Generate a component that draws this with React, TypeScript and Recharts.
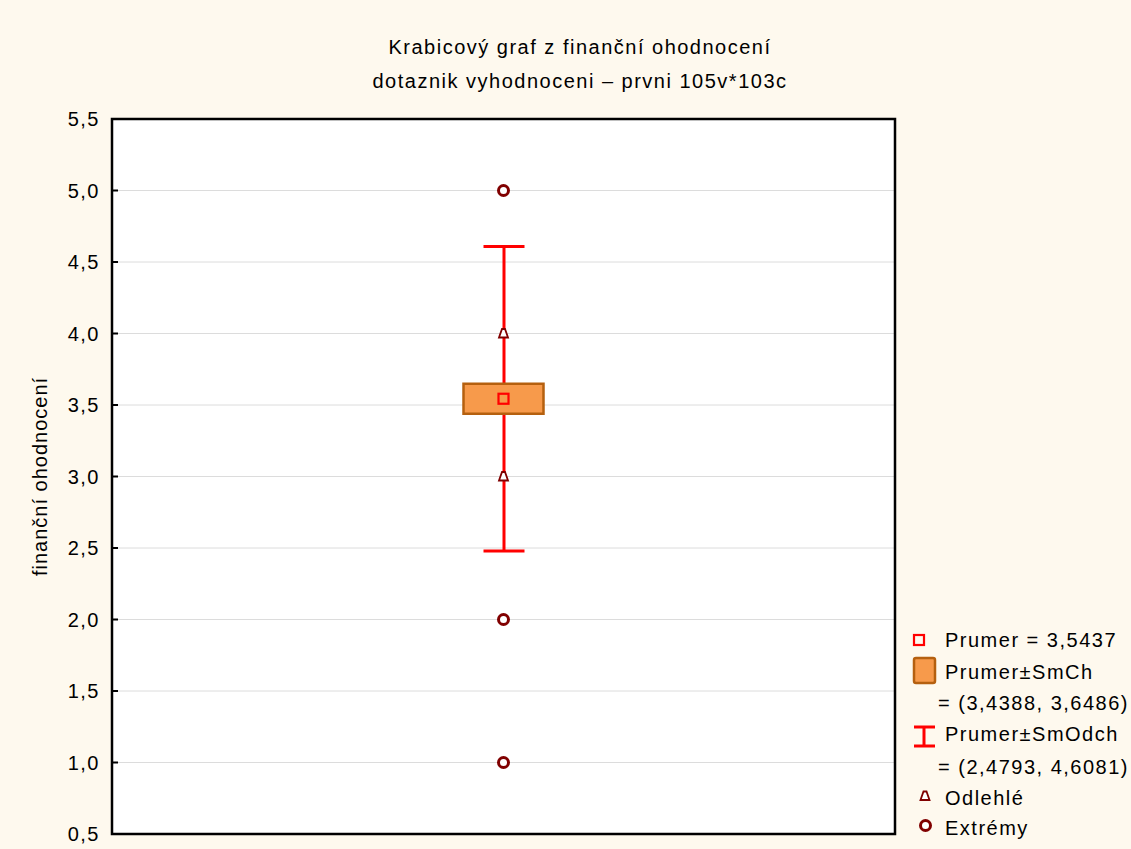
import React from 'react';
import {
  ComposedChart,
  Bar,
  Scatter,
  XAxis,
  YAxis,
  CartesianGrid,
  ReferenceArea,
  Legend,
} from 'recharts';

// Box plot values: mean, mean ± std. error, mean ± std. deviation
const categories = ['finanční ohodnocení'];
const meanValues = [3.5437];
const seLow = [3.4388];
const seHigh = [3.6486];
const sdLow = [2.4793];
const sdHigh = [4.6081];
const outlierValues = [4.0, 3.0];
const extremeValues = [5.0, 2.0, 1.0];
const yTicks = [0.5, 1.0, 1.5, 2.0, 2.5, 3.0, 3.5, 4.0, 4.5, 5.0, 5.5];

const titleLines = ['Krabicový graf z finanční ohodnocení', 'dotaznik vyhodnoceni – prvni  105v*103c'];

const FONT = '"Liberation Sans", Arial, sans-serif';
const BG = '#FEF9EE';
const BOX_FILL = '#F79A4B';
const BOX_STROKE = '#B5600F';
const RED = '#FF0000';
const DARK_RED = '#800000';

const fmt = (v: number, digits: number) => v.toFixed(digits).replace('.', ',');

// category sits in the middle of a 0..2 numeric axis
const chartData = categories.map((name, i) => ({
  name,
  x: 1,
  se: [seLow[i], seHigh[i]],
  sd: [sdLow[i], sdHigh[i]],
}));
const meanData = meanValues.map((v) => ({ x: 1, v }));
const outlierData = outlierValues.map((v) => ({ x: 1, v }));
const extremeData = extremeValues.map((v) => ({ x: 1, v }));

const YTick = (props: any) => {
  const { x, y, payload } = props;
  return (
    <g>
      <line x1={x} x2={x + 6} y1={y} y2={y} stroke="#000" strokeWidth={2} />
      <text
        x={x - 12}
        y={y}
        dy="0.35em"
        textAnchor="end"
        fontSize={20}
        letterSpacing={1.5}
        fontFamily={FONT}
        fill="#000"
      >
        {fmt(payload.value, 1)}
      </text>
    </g>
  );
};

const WhiskerShape = (props: any) => {
  const { x, y, width, height } = props;
  const cx = x + width / 2;
  return (
    <g stroke={RED} strokeWidth={3}>
      <line x1={cx} x2={cx} y1={y} y2={y + height} />
      <line x1={x} x2={x + width} y1={y} y2={y} />
      <line x1={x} x2={x + width} y1={y + height} y2={y + height} />
    </g>
  );
};

const MeanShape = (props: any) => (
  <rect x={props.cx - 5} y={props.cy - 5} width={10} height={10} fill="none" stroke={RED} strokeWidth={2.2} />
);

const OutlierShape = (props: any) => {
  const { cx, cy } = props;
  return (
    <path
      d={`M${cx - 1.5},${cy - 4.5} L${cx + 1.5},${cy - 4.5} L${cx + 4.5},${cy + 4} L${cx - 4.5},${cy + 4} Z`}
      fill="#fff"
      stroke={DARK_RED}
      strokeWidth={1.8}
    />
  );
};

const ExtremeShape = (props: any) => (
  <circle cx={props.cx} cy={props.cy} r={5} fill="#fff" stroke={DARK_RED} strokeWidth={3} />
);

const legendText = {
  fontSize: 20,
  letterSpacing: 1.5,
  fontFamily: FONT,
  fill: '#000',
};

const BoxLegend = () => (
  <svg width={231} height={229} style={{ display: 'block' }}>
    <rect x={14} y={15} width={10} height={10} fill="none" stroke={RED} strokeWidth={2.2} />
    <text x={45} y={20} dy="0.35em" {...legendText}>{`Prumer = ${fmt(meanValues[0], 4)}`}</text>

    <rect x={14} y={38} width={21} height={25} rx={2} fill={BOX_FILL} stroke={BOX_STROKE} strokeWidth={2.5} />
    <text x={45} y={52} dy="0.35em" {...legendText}>Prumer±SmCh</text>
    <text x={38} y={83} dy="0.35em" {...legendText}>{`= (${fmt(seLow[0], 4)}, ${fmt(seHigh[0], 4)})`}</text>

    <g stroke={RED} strokeWidth={3}>
      <line x1={24} x2={24} y1={107} y2={126} />
      <line x1={14} x2={35} y1={107} y2={107} />
      <line x1={14} x2={35} y1={126} y2={126} />
    </g>
    <text x={45} y={114} dy="0.35em" {...legendText}>Prumer±SmOdch</text>
    <text x={38} y={147} dy="0.35em" {...legendText}>{`= (${fmt(sdLow[0], 4)}, ${fmt(sdHigh[0], 4)})`}</text>

    <OutlierShape cx={25} cy={176} />
    <text x={45} y={178} dy="0.35em" {...legendText}>Odlehlé</text>

    <ExtremeShape cx={25.5} cy={205.5} />
    <text x={45} y={208} dy="0.35em" {...legendText}>Extrémy</text>
  </svg>
);

export default function App() {
  return (
    <div style={{ position: 'absolute', left: 0, top: 0, width: 1131, height: 849, background: BG }}>
      <svg width={1131} height={110} style={{ position: 'absolute', left: 0, top: 0 }}>
        {titleLines.map((t, i) => (
          <text
            key={i}
            x={580}
            y={54 + i * 34}
            textAnchor="middle"
            fontSize={20}
            letterSpacing={1.5}
            fontFamily={FONT}
            fill="#000"
          >
            {t}
          </text>
        ))}
      </svg>
      <ComposedChart
        width={1131}
        height={849}
        data={chartData}
        margin={{ top: 119, right: 236, bottom: 15, left: 0 }}
        style={{ position: 'absolute', left: 0, top: 0 }}
      >
        <CartesianGrid vertical={false} stroke="#DCDCDC" fill="#FFFFFF" />
        <XAxis xAxisId="main" dataKey="x" type="number" domain={[0, 2]} hide />
        <XAxis xAxisId="sd" dataKey="x" type="number" domain={[0, 2]} hide />
        <YAxis
          type="number"
          domain={[0.5, 5.5]}
          ticks={yTicks}
          width={112}
          interval={0}
          tickSize={0}
          tickMargin={0}
          axisLine={false}
          tickLine={false}
          tick={<YTick />}
          label={{
            content: (p: any) => {
              const vb = p.viewBox;
              const cy = vb.y + vb.height / 2;
              return (
                <text
                  x={47}
                  y={cy}
                  transform={`rotate(-90, 47, ${cy})`}
                  textAnchor="middle"
                  fontSize={20}
                  letterSpacing={1}
                  fontFamily={FONT}
                  fill="#000"
                >
                  {categories[0]}
                </text>
              );
            },
          }}
        />
        <Bar
          xAxisId="sd"
          dataKey="sd"
          barSize={41}
          shape={<WhiskerShape />}
          isAnimationActive={false}
        />
        <Bar
          xAxisId="main"
          dataKey="se"
          barSize={80}
          fill={BOX_FILL}
          stroke={BOX_STROKE}
          strokeWidth={2.5}
          isAnimationActive={false}
        />
        <Scatter xAxisId="main" data={outlierData} dataKey="v" shape={<OutlierShape />} isAnimationActive={false} />
        <Scatter xAxisId="main" data={extremeData} dataKey="v" shape={<ExtremeShape />} isAnimationActive={false} />
        <Scatter xAxisId="main" data={meanData} dataKey="v" shape={<MeanShape />} isAnimationActive={false} />
        <ReferenceArea
          xAxisId="main"
          y1={0.5}
          y2={5.5}
          fill="none"
          stroke="#000"
          strokeWidth={2.5}
          ifOverflow="visible"
        />
        <Legend
          layout="vertical"
          align="center"
          verticalAlign="middle"
          content={<BoxLegend />}
          wrapperStyle={{ position: 'absolute', left: 900, top: 620, width: 231, height: 229 }}
        />
      </ComposedChart>
    </div>
  );
}
